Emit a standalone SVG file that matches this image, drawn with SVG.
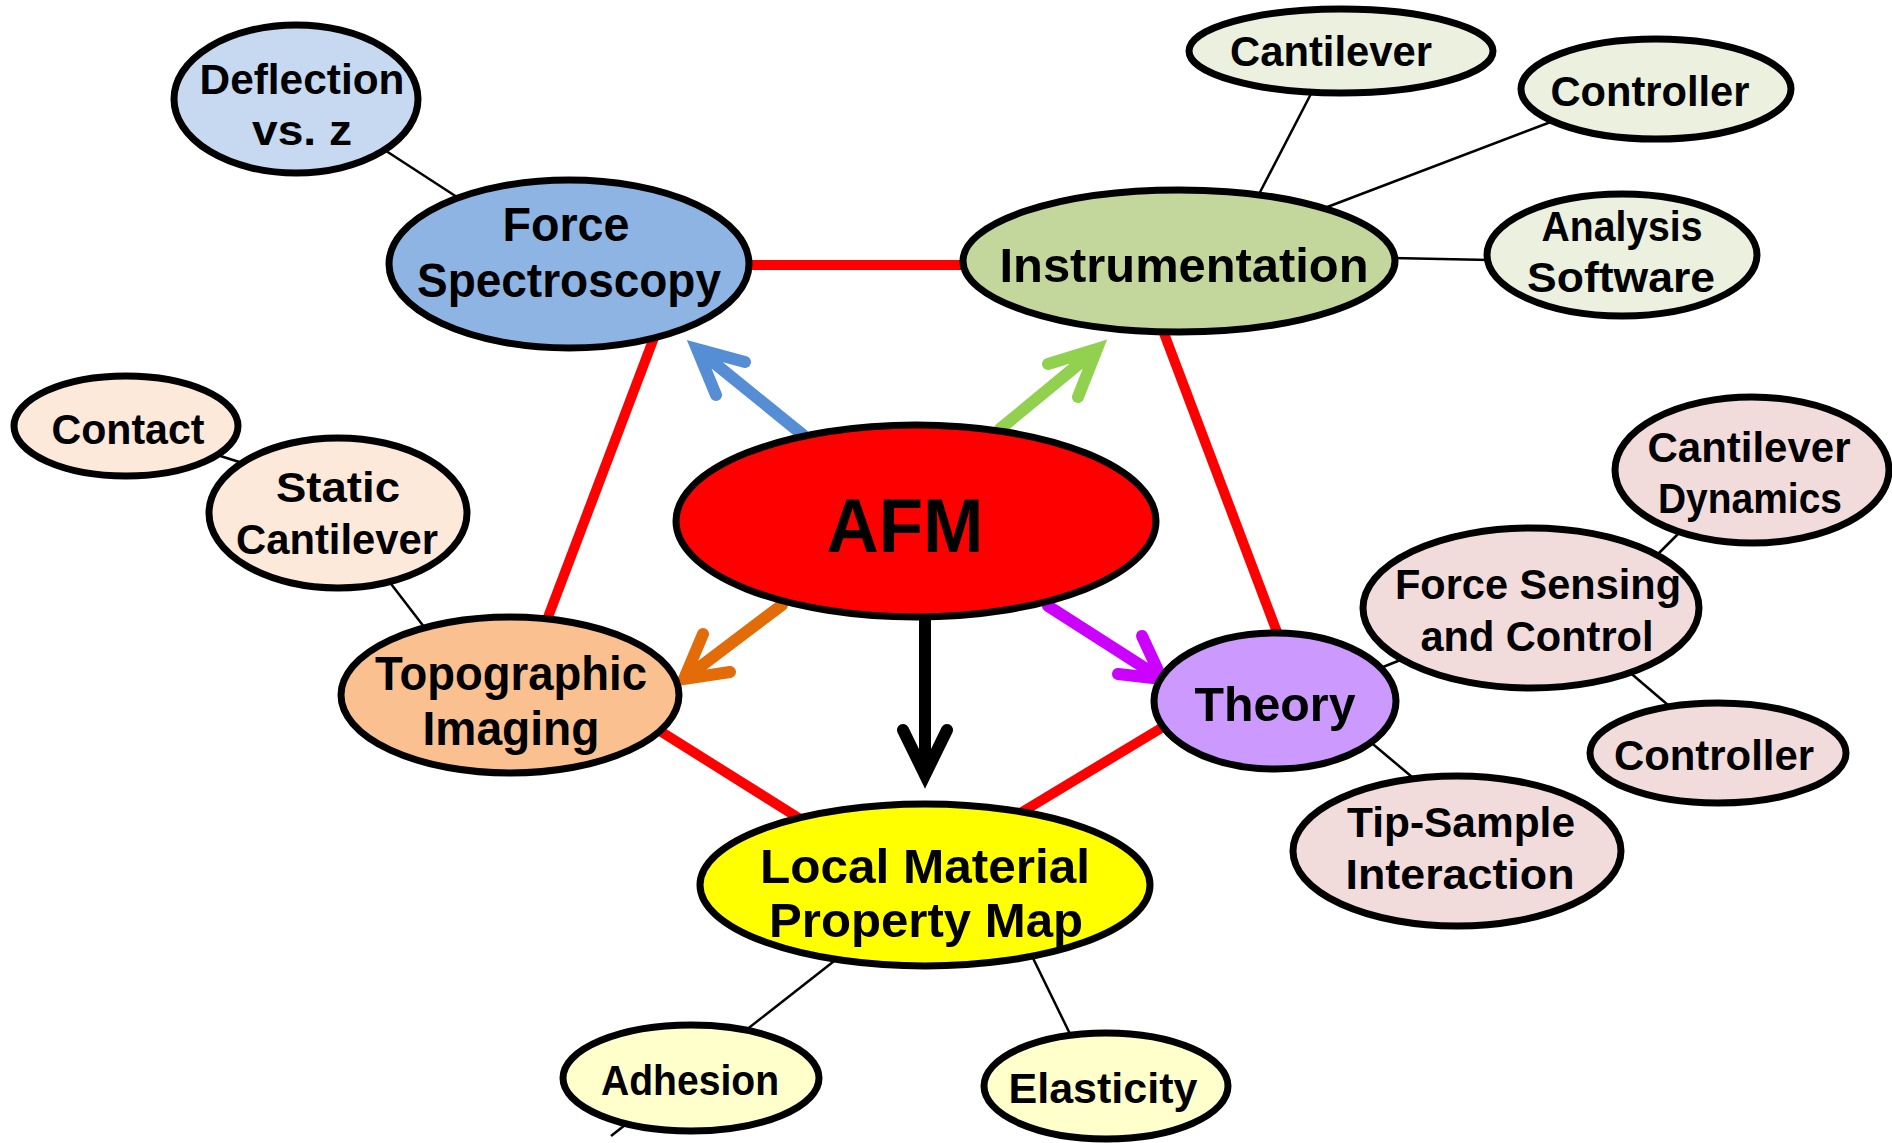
<svg xmlns="http://www.w3.org/2000/svg" width="1892" height="1143" viewBox="0 0 1892 1143">
<style>
.n ellipse{stroke:#000;stroke-width:7}
.n text{font-family:"Liberation Sans","Noto Sans",sans-serif;font-weight:bold;fill:#000;text-anchor:middle}
.s text{font-size:42px}
.m text{font-size:48px}
.red{stroke:#ff0000;stroke-width:10;fill:none}
.thin{stroke:#000;stroke-width:2.5;fill:none}
.arr{stroke-width:12;fill:none;stroke-linecap:round;stroke-linejoin:miter;stroke-miterlimit:10}
</style>
<rect width="1892" height="1143" fill="#fff"/>
<g id="connectors">
<line class="red" x1="745" y1="265" x2="970" y2="265"/>
<line class="red" x1="655" y1="335" x2="545" y2="625"/>
<line class="red" x1="1162" y1="328" x2="1280" y2="640"/>
<line class="red" x1="652" y1="726" x2="805" y2="822"/>
<line class="red" x1="1168" y1="724" x2="1022" y2="812"/>
<line class="thin" x1="380" y1="147" x2="460" y2="199"/>
<line class="thin" x1="214" y1="454" x2="252" y2="466"/>
<line class="thin" x1="388" y1="580" x2="428" y2="632"/>
<line class="thin" x1="1314" y1="88" x2="1257" y2="198"/>
<line class="thin" x1="1556" y1="120" x2="1322" y2="209"/>
<line class="thin" x1="1392" y1="258" x2="1490" y2="260"/>
<line class="thin" x1="1680" y1="532" x2="1654" y2="558"/>
<line class="thin" x1="1378" y1="669" x2="1408" y2="657"/>
<line class="thin" x1="1627" y1="670" x2="1675" y2="711"/>
<line class="thin" x1="1368" y1="740" x2="1418" y2="782"/>
<line class="thin" x1="838" y1="958" x2="611" y2="1136"/>
<line class="thin" x1="1030" y1="952" x2="1072" y2="1038"/>
<path class="arr" stroke="#558ed5" d="M803 435 L697 349 M745 362 L697 349 L716 395"/>
<path class="arr" stroke="#92d050" d="M1000 429 L1097 349 M1048 364 L1097 349 L1078 397"/>
<path class="arr" stroke="#e36c09" d="M782 605 L684 679 M703 634 L684 679 L730 672"/>
<path class="arr" stroke="#cc00ff" d="M1048 606 L1162 679 M1142 636 L1162 679 L1118 674"/>
<path class="arr" stroke="#000" d="M925 612 L925 775 M903 730 L925 775 L947 730"/>
</g>
<g id="deflection" class="n s">
<ellipse cx="296" cy="99" rx="122" ry="74" fill="#c6d9f1"/>
<text x="302" y="94" textLength="205" lengthAdjust="spacingAndGlyphs">Deflection</text>
<text x="302" y="145" textLength="100" lengthAdjust="spacingAndGlyphs">vs. z</text>
</g>
<g id="force-spectroscopy" class="n m">
<ellipse cx="569" cy="264" rx="180" ry="84" fill="#8eb4e3"/>
<text x="566" y="241" textLength="127" lengthAdjust="spacingAndGlyphs">Force</text>
<text x="569" y="297" textLength="304" lengthAdjust="spacingAndGlyphs">Spectroscopy</text>
</g>
<g id="instrumentation" class="n m">
<ellipse cx="1179" cy="261" rx="216" ry="71" fill="#c3d69b"/>
<text x="1184" y="282" textLength="369" lengthAdjust="spacingAndGlyphs">Instrumentation</text>
</g>
<g id="cantilever-top" class="n s">
<ellipse cx="1341" cy="51" rx="152" ry="42" fill="#ebf1de"/>
<text x="1331" y="66" textLength="202" lengthAdjust="spacingAndGlyphs">Cantilever</text>
</g>
<g id="controller-top" class="n s">
<ellipse cx="1656" cy="89" rx="135" ry="50" fill="#ebf1de"/>
<text x="1650" y="106" textLength="199" lengthAdjust="spacingAndGlyphs">Controller</text>
</g>
<g id="analysis-software" class="n s">
<ellipse cx="1622" cy="255" rx="135" ry="61" fill="#ebf1de"/>
<text x="1622" y="241" textLength="161" lengthAdjust="spacingAndGlyphs">Analysis</text>
<text x="1621" y="292" textLength="188" lengthAdjust="spacingAndGlyphs">Software</text>
</g>
<g id="afm" class="n">
<ellipse cx="916" cy="521" rx="240" ry="96" fill="#ff0000"/>
<text x="905" y="552" font-size="76" textLength="157" lengthAdjust="spacingAndGlyphs">AFM</text>
</g>
<g id="contact" class="n s">
<ellipse cx="126" cy="426" rx="112" ry="50" fill="#fde9d9"/>
<text x="128" y="444" textLength="153" lengthAdjust="spacingAndGlyphs">Contact</text>
</g>
<g id="static-cantilever" class="n s">
<ellipse cx="338" cy="513" rx="129" ry="75" fill="#fde9d9"/>
<text x="338" y="502" textLength="124" lengthAdjust="spacingAndGlyphs">Static</text>
<text x="337" y="554" textLength="202" lengthAdjust="spacingAndGlyphs">Cantilever</text>
</g>
<g id="topographic-imaging" class="n m">
<ellipse cx="510" cy="695" rx="169" ry="78" fill="#fac090"/>
<text x="511" y="690" textLength="272" lengthAdjust="spacingAndGlyphs">Topographic</text>
<text x="511" y="745" textLength="177" lengthAdjust="spacingAndGlyphs">Imaging</text>
</g>
<g id="local-material" class="n m">
<ellipse cx="925" cy="885" rx="225" ry="81" fill="#ffff00"/>
<text x="925" y="883" textLength="330" lengthAdjust="spacingAndGlyphs">Local Material</text>
<text x="926" y="937" textLength="314" lengthAdjust="spacingAndGlyphs">Property Map</text>
</g>
<g id="adhesion" class="n s">
<ellipse cx="691" cy="1078" rx="128" ry="53" fill="#ffffcc"/>
<text x="690" y="1095" textLength="178" lengthAdjust="spacingAndGlyphs">Adhesion</text>
</g>
<g id="elasticity" class="n s">
<ellipse cx="1106" cy="1086" rx="122" ry="53" fill="#ffffcc"/>
<text x="1103" y="1103" textLength="189" lengthAdjust="spacingAndGlyphs">Elasticity</text>
</g>
<g id="theory" class="n m">
<ellipse cx="1275" cy="701" rx="121" ry="68" fill="#cc99ff"/>
<text x="1275" y="721" textLength="161" lengthAdjust="spacingAndGlyphs">Theory</text>
</g>
<g id="force-sensing" class="n s">
<ellipse cx="1531" cy="608" rx="168" ry="80" fill="#f2dcdb"/>
<text x="1538" y="599" textLength="286" lengthAdjust="spacingAndGlyphs">Force Sensing</text>
<text x="1537" y="651" textLength="233" lengthAdjust="spacingAndGlyphs">and Control</text>
</g>
<g id="cantilever-dynamics" class="n s">
<ellipse cx="1752" cy="470" rx="137" ry="73" fill="#f2dcdb"/>
<text x="1749" y="462" textLength="203" lengthAdjust="spacingAndGlyphs">Cantilever</text>
<text x="1750" y="513" textLength="184" lengthAdjust="spacingAndGlyphs">Dynamics</text>
</g>
<g id="controller-right" class="n s">
<ellipse cx="1718" cy="753" rx="128" ry="50" fill="#f2dcdb"/>
<text x="1714" y="770" textLength="200" lengthAdjust="spacingAndGlyphs">Controller</text>
</g>
<g id="tip-sample" class="n s">
<ellipse cx="1457" cy="851" rx="164" ry="75" fill="#f2dcdb"/>
<text x="1461" y="837" textLength="228" lengthAdjust="spacingAndGlyphs">Tip-Sample</text>
<text x="1460" y="889" textLength="229" lengthAdjust="spacingAndGlyphs">Interaction</text>
</g>
</svg>
